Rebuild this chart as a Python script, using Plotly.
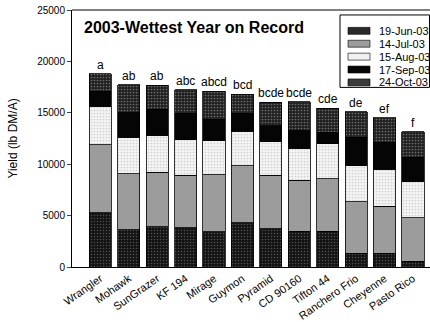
import plotly.graph_objects as go

varieties = ["Wrangler", "Mohawk", "SunGrazer", "KF 194", "Mirage", "Guymon",
             "Pyramid", "CD 90160", "Tifton 44", "Ranchero Frio", "Cheyenne", "Pasto Rico"]
jun19 = [5280, 3600, 3930, 3830, 3440, 4310, 3700, 3500, 3500, 1350, 1350, 550]
jul14 = [6620, 5470, 5300, 5080, 5530, 5560, 5210, 4930, 5090, 4990, 4570, 4250]
aug15 = [3730, 3540, 3600, 3470, 3310, 3320, 3280, 3120, 3380, 3530, 3570, 3470]
sep17 = [1450, 2410, 2510, 2580, 2100, 1770, 1540, 1700, 1120, 2740, 2640, 2410]
oct24 = [1740, 2730, 2360, 2260, 2730, 1830, 2320, 2830, 2360, 2490, 2370, 2500]
letters = ["a", "ab", "ab", "abc", "abcd", "bcd", "bcde", "bcde", "cde", "de", "ef", "f"]
series_names = ["19-Jun-03", "14-Jul-03", "15-Aug-03", "17-Sep-03", "24-Oct-03"]
y_ticks = [0, 5000, 10000, 15000, 20000, 25000]

FONT = "Liberation Sans, Arial, sans-serif"
W, H = 430, 322
ML, MR, MT, MB = 72, 0, 10, 53

styles = [
    dict(bg="#141414", fg="#505050", shape=".", size=3, sol=0.2, sw="#2a2a2a"),
    dict(bg="#a6a6a6", fg="#7a7a7a", shape=".", size=2, sol=0.3, sw="#9c9c9c"),
    dict(bg="#f4f4f4", fg="#cfcfcf", shape=".", size=3, sol=0.25, sw="#f0f0f0"),
    dict(bg="#050505", fg="#050505", shape="", size=3, sol=0.3, sw="#050505"),
    dict(bg="#202020", fg="#6e6e6e", shape=".", size=3, sol=0.25, sw="#3a3a3a"),
]


def marker_for(st, lw=0.8):
    return dict(
        color=st["bg"],
        line=dict(color="black", width=lw),
        pattern=dict(shape=st["shape"], bgcolor=st["bg"], fgcolor=st["fg"],
                     size=st["size"], solidity=st["sol"], fillmode="replace"),
    )


def px_x(px):
    return (px - ML) / (W - ML - MR)


def px_y(py):
    return (H - MB - py) / (H - MT - MB)


fig = go.Figure()
for name, vals, st in zip(series_names, [jun19, jul14, aug15, sep17, oct24], styles):
    fig.add_trace(go.Bar(x=varieties, y=vals, name=name, marker=marker_for(st),
                         showlegend=False))

totals = [a + b + c + d + e for a, b, c, d, e in zip(jun19, jul14, aug15, sep17, oct24)]
for v, t, l in zip(varieties, totals, letters):
    fig.add_annotation(x=v, y=t, text=l, showarrow=False, yanchor="bottom", yshift=0,
                       font=dict(family=FONT, size=12, color="black"))

fig.add_annotation(xref="paper", yref="paper", x=0.028, y=0.93, xanchor="left", yanchor="middle",
                   text="<b>2003-Wettest Year on Record</b>", showarrow=False,
                   font=dict(family=FONT, size=16, color="black"))

# ---- compact legend box (reference legend is tighter than Plotly's native one) ----
fig.add_shape(type="rect", xref="paper", yref="paper", x0=px_x(340), x1=px_x(429.5),
              y0=px_y(88), y1=px_y(15), line=dict(color="black", width=1),
              fillcolor="white", layer="below")
for i, (name, st) in enumerate(zip(series_names, styles)):
    cy = 31 + 13 * i
    fig.add_shape(type="rect", xref="paper", yref="paper", x0=px_x(348), x1=px_x(370),
                  y0=px_y(cy + 3.5), y1=px_y(cy - 3.5), fillcolor=st["sw"],
                  line=dict(color="black", width=0.6))
    fig.add_annotation(xref="paper", yref="paper", x=px_x(377), y=px_y(cy), text=name,
                       xanchor="left", yanchor="middle", showarrow=False,
                       font=dict(family=FONT, size=11, color="black"))

fig.update_layout(
    width=W, height=H,
    margin=dict(l=ML, r=MR, t=MT, b=MB),
    barmode="stack", bargap=0.22,
    paper_bgcolor="white", plot_bgcolor="white",
    font=dict(family=FONT, size=11, color="black"),
    showlegend=False,
    xaxis=dict(range=[-1.0, 11.6], tickangle=-35, showline=True, linecolor="black",
               mirror=False, ticks="", tickfont=dict(family=FONT, size=11)),
    yaxis=dict(range=[0, 25000], tickvals=y_ticks, ticktext=[str(t) for t in y_ticks],
               showline=True, linecolor="black", ticks="outside", ticklen=4,
               showgrid=False, zeroline=False, tickfont=dict(family=FONT, size=10),
               title=dict(text="Yield (lb DM/A)", font=dict(family=FONT, size=12), standoff=16)),
)
fig.add_shape(type="line", xref="paper", yref="paper", x0=0, x1=1, y0=1, y1=1,
              line=dict(color="black", width=1))

fig.write_html("out.html")
